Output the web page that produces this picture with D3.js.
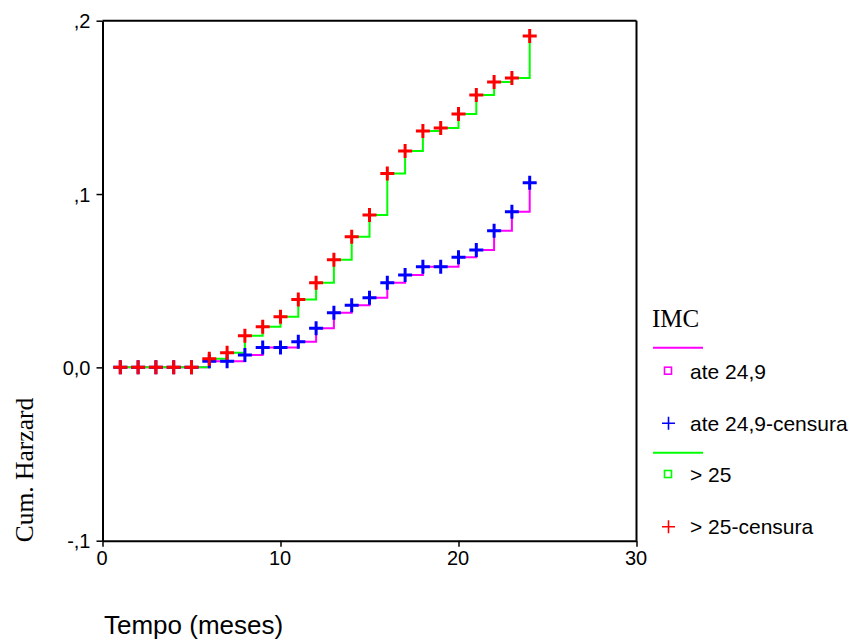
<!DOCTYPE html>
<html>
<head>
<meta charset="utf-8">
<script src="https://cdn.jsdelivr.net/npm/d3@7"></script>
<style>
  html, body { margin: 0; padding: 0; background: #fff; }
  svg { display: block; }
</style>
</head>
<body>
<svg id="chart" width="854" height="642"></svg>
<script>
// ---- data ----
const times = [1,2,3,4,5,6,7,8,9,10,11,12,13,14,15,16,17,18,19,20,21,22,23,24];
const hazardAte249 = [0,0,0,0,0,0.0036,0.0036,0.0071,0.0115,0.0115,0.0148,0.0225,0.0315,0.0359,0.0402,0.0488,0.0533,0.0581,0.0581,0.0635,0.0677,0.0788,0.0898,0.1065];
const hazardMaior25 = [0,0,0,0,0,0.0050,0.0084,0.0182,0.0234,0.0292,0.0392,0.0488,0.0621,0.0754,0.0879,0.1119,0.1248,0.1364,0.1381,0.1462,0.1571,0.1646,0.1669,0.1912];
const xTicks = [0,10,20,30];
const xTickLabels = ["0","10","20","30"];
const yTicks = [-0.1,0,0.1,0.2];
const yTickLabels = ["-,1","0,0",",1",",2"];
const legendTitle = "IMC";
const legendItems = ["ate 24,9","ate 24,9-censura","> 25","> 25-censura"];
const xTitle = "Tempo (meses)";
const yTitle = "Cum. Harzard";

// ---- layout ----
const svg = d3.select("#chart");
const pLeft = 102.5, pRight = 636.5, pTop = 20.7, pBottom = 540.7;
const x = d3.scaleLinear().domain([0,30]).range([pLeft,pRight]);
const y = d3.scaleLinear().domain([-0.1,0.2]).range([pBottom,pTop]);
const sans = "'Liberation Sans', Arial, sans-serif";
const serif = "'Liberation Serif', 'Times New Roman', serif";

const colMag = "#ff00ff", colBlue = "#0000ff", colGreen = "#00ff00", colRed = "#ff0000";

// frame top & right
svg.append("line").attr("x1",pLeft).attr("x2",pRight).attr("y1",pTop).attr("y2",pTop)
  .attr("stroke","#000").attr("stroke-width",2);
svg.append("line").attr("x1",pRight).attr("x2",pRight).attr("y1",pTop).attr("y2",pBottom)
  .attr("stroke","#000").attr("stroke-width",2);

// axes
const yAxis = d3.axisLeft(y).tickValues(yTicks).tickSize(6).tickSizeOuter(0)
  .tickFormat((d,i)=>yTickLabels[i]);
const gy = svg.append("g").attr("transform",`translate(${pLeft},0)`).call(yAxis);
gy.select(".domain").attr("stroke","#000").attr("stroke-width",2);
gy.selectAll(".tick line").attr("stroke","#000").attr("stroke-width",1.5);
gy.selectAll(".tick text").attr("font-family",sans).attr("font-size",20).attr("fill","#000")
  .attr("x",-12).attr("dy","0.35em");

const xAxis = d3.axisBottom(x).tickValues(xTicks).tickSize(6).tickSizeOuter(0)
  .tickFormat((d,i)=>xTickLabels[i]);
const gx = svg.append("g").attr("transform",`translate(0,${pBottom})`).call(xAxis);
gx.select(".domain").attr("stroke","#000").attr("stroke-width",2);
gx.selectAll(".tick line").attr("stroke","#000").attr("stroke-width",1.5);
gx.selectAll(".tick text").attr("font-family",sans).attr("font-size",20).attr("fill","#000")
  .attr("y",10).attr("dy","0.71em").attr("dx",-1);

// axis titles
svg.append("text").attr("x",104).attr("y",633.5).attr("font-family",sans).attr("font-size",26)
  .attr("fill","#000").text(xTitle);
svg.append("text").attr("transform",`translate(33,470) rotate(-90)`).attr("text-anchor","middle")
  .attr("font-family",serif).attr("font-size",25.5).attr("fill","#000").text(yTitle);

// step lines
const line = d3.line().x(d=>x(d[0])).y(d=>y(d[1])).curve(d3.curveStepAfter);
const dataA = times.map((t,i)=>[t,hazardAte249[i]]);
const dataB = times.map((t,i)=>[t,hazardMaior25[i]]);
svg.append("path").datum(dataA).attr("d",line).attr("fill","none").attr("stroke",colMag).attr("stroke-width",2);
svg.append("path").datum(dataB).attr("d",line).attr("fill","none").attr("stroke",colGreen).attr("stroke-width",2);

// censor crosses
function drawCrosses(data, color){
  const s = 7;
  const g = svg.append("g");
  g.selectAll("path").data(data).join("path")
    .attr("d", d => `M${x(d[0])-s},${y(d[1])}H${x(d[0])+s}M${x(d[0])},${y(d[1])-s}V${y(d[1])+s}`)
    .attr("stroke",color).attr("stroke-width",3).attr("fill","none");
}
drawCrosses(dataA, colBlue);
drawCrosses(dataB, colRed);

// legend
const lg = svg.append("g");
lg.append("text").attr("x",652).attr("y",327).attr("font-family",serif).attr("font-size",25)
  .attr("fill","#000").text(legendTitle);
function legLine(yy,color){
  lg.append("line").attr("x1",653).attr("x2",703).attr("y1",yy).attr("y2",yy).attr("stroke",color).attr("stroke-width",2);
}
function legSquare(yy,color){
  lg.append("rect").attr("x",664.5).attr("y",yy-3.5).attr("width",7).attr("height",7)
    .attr("fill","none").attr("stroke",color).attr("stroke-width",1.6);
}
function legCross(yy,color){
  lg.append("path").attr("d",`M662,${yy}H675M668.5,${yy-6.5}V${yy+6.5}`).attr("stroke",color).attr("stroke-width",1.6).attr("fill","none");
}
function legText(yy,t){
  lg.append("text").attr("x",690).attr("y",yy).attr("font-family",sans).attr("font-size",21).attr("fill","#000").text(t);
}
legLine(347.7,colMag);
legSquare(370.7,colMag); legText(378.5,legendItems[0]);
legCross(423.3,colBlue); legText(430.5,legendItems[1]);
legLine(452.7,colGreen);
legSquare(474,colGreen); legText(481.5,legendItems[2]);
legCross(526.7,colRed); legText(533.5,legendItems[3]);
</script>
</body>
</html>
